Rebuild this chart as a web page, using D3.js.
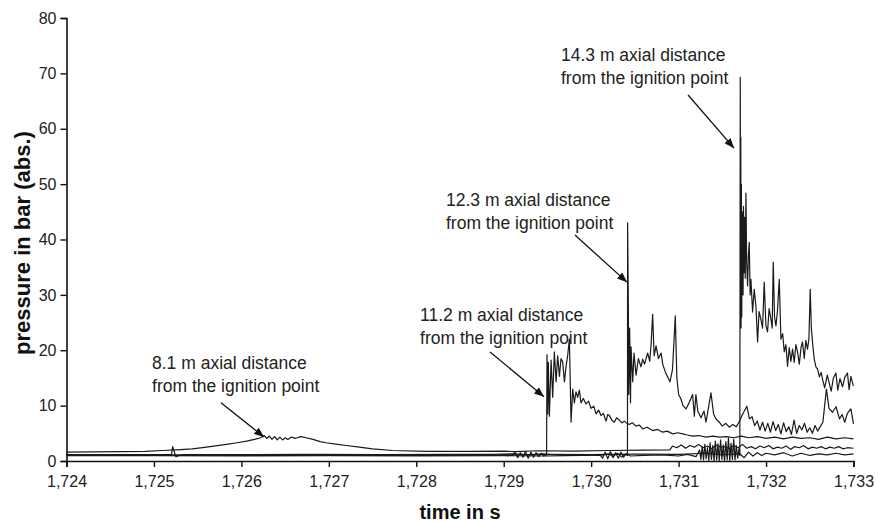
<!DOCTYPE html>
<html>
<head>
<meta charset="utf-8">
<script src="https://cdn.jsdelivr.net/npm/d3@7"></script>
<style>
  html, body { margin: 0; padding: 0; background: #fff; }
  svg { display: block; font-family: "Liberation Sans", Arial, Helvetica, sans-serif; }
</style>
</head>
<body>
<svg id="chart" width="878" height="522"></svg>
<script>
// Pressure traces along the tube; time is given in milliseconds after 1.724 s.
const xTickValues = [0, 1, 2, 3, 4, 5, 6, 7, 8, 9];
const xTickLabels = ["1,724", "1,725", "1,726", "1,727", "1,728", "1,729", "1,730", "1,731", "1,732", "1,733"];
const yTickValues = [0, 10, 20, 30, 40, 50, 60, 70, 80];

// 8.1 m sensor
const t81 = [0, 0.3, 0.6, 0.9, 1.1, 1.3, 1.44, 1.6, 1.83, 1.95, 2.06, 2.15, 2.22, 2.26, 2.29, 2.32, 2.35, 2.38, 2.41, 2.44, 2.47, 2.5, 2.53, 2.57, 2.62, 2.68, 2.74, 2.82, 2.9, 2.97, 3.1, 3.2, 3.35, 3.5, 3.73, 4.12, 4.6, 5.0, 5.12, 5.4, 5.8, 6.2, 6.6, 6.9, 6.93, 6.98, 7.03, 7.08, 7.13, 7.18, 7.23, 7.28, 7.33, 7.38, 7.43, 7.48, 7.53, 7.58, 7.63, 7.68, 7.73, 7.78, 7.83, 7.88, 7.93, 7.98, 8.03, 8.08, 8.13, 8.18, 8.23, 8.28, 8.33, 8.38, 8.43, 8.48, 8.53, 8.58, 8.63, 8.68, 8.73, 8.78, 8.83, 8.88, 8.93, 9.0];
const p81 = [1.6, 1.65, 1.7, 1.75, 1.9, 2.05, 2.2, 2.5, 3.0, 3.3, 3.6, 3.9, 4.2, 4.6, 4.1, 4.5, 3.9, 4.4, 3.8, 4.3, 3.8, 4.2, 3.9, 4.3, 4.1, 4.4, 4.2, 3.9, 3.5, 3.3, 3.0, 2.8, 2.5, 2.2, 1.9, 1.75, 1.75, 1.8, 1.7, 1.85, 1.8, 1.9, 1.95, 2.0, 2.7, 2.4, 2.9, 2.3, 2.8, 2.5, 3.0, 2.4, 2.7, 2.2, 2.9, 2.5, 2.6, 2.2, 2.8, 2.4, 3.0, 2.3, 2.6, 2.2, 2.7, 2.4, 2.8, 2.2, 2.5, 2.3, 2.7, 2.1, 2.6, 2.4, 2.8, 2.2, 2.5, 2.3, 2.6, 2.2, 2.5, 2.3, 2.6, 2.2, 2.4, 2.3];

// 11.2 m sensor
const t112 = [0, 0.6, 1.15, 1.2, 1.215, 1.23, 1.25, 1.29, 1.35, 2.0, 2.8, 3.6, 4.4, 4.9, 5.1, 5.3, 5.45, 5.49, 5.495, 5.503, 5.51, 5.522, 5.542, 5.56, 5.579, 5.599, 5.617, 5.637, 5.655, 5.674, 5.694, 5.712, 5.731, 5.751, 5.77, 5.789, 5.808, 5.826, 5.846, 5.865, 5.884, 5.91, 5.941, 5.97, 5.999, 6.03, 6.056, 6.085, 6.113, 6.14, 6.17, 6.19, 6.208, 6.235, 6.265, 6.29, 6.322, 6.35, 6.379, 6.41, 6.436, 6.47, 6.513, 6.55, 6.589, 6.64, 6.703, 6.76, 6.818, 6.87, 6.932, 6.99, 7.046, 7.1, 7.16, 7.23, 7.313, 7.39, 7.465, 7.55, 7.63, 7.72, 7.8, 7.9, 8.0, 8.1, 8.2, 8.3, 8.4, 8.5, 8.6, 8.7, 8.8, 8.9, 9.0];
const p112 = [1.15, 1.15, 1.15, 1.2, 2.6, 1.8, 0.8, 1.0, 1.15, 1.15, 1.2, 1.15, 1.2, 1.2, 1.3, 1.1, 1.3, 1.2, 19.2, 8.5, 17.8, 8.1, 18.2, 11.5, 19.7, 14.3, 19.0, 15.3, 18.5, 17.9, 14.3, 17.0, 19.0, 22.0, 7.0, 13.0, 10.5, 12.5, 11.5, 12.8, 10.5, 11.3, 10.3, 10.8, 9.5, 9.9, 8.5, 9.2, 8.2, 8.6, 7.2, 8.4, 8.2, 7.4, 7.0, 7.8, 7.4, 6.9, 7.2, 6.8, 6.6, 6.9, 6.3, 6.5, 5.8, 6.1, 5.5, 5.7, 5.2, 5.4, 4.9, 5.1, 4.9, 4.7, 4.5, 4.6, 4.3, 4.5, 4.3, 4.4, 4.2, 4.5, 4.2, 4.4, 4.1, 4.3, 4.0, 4.3, 4.1, 4.2, 3.9, 4.3, 4.0, 4.2, 4.0];

// 12.3 m sensor
const t123 = [0, 0.8, 1.6, 2.4, 3.2, 4.0, 4.8, 5.1, 5.13, 5.16, 5.19, 5.22, 5.25, 5.28, 5.31, 5.34, 5.37, 5.4, 5.43, 5.46, 5.5, 5.7, 5.9, 6.1, 6.2, 6.25, 6.3, 6.35, 6.39, 6.415, 6.417, 6.425, 6.43, 6.44, 6.45, 6.456, 6.475, 6.49, 6.513, 6.54, 6.57, 6.589, 6.61, 6.646, 6.67, 6.685, 6.703, 6.72, 6.742, 6.77, 6.8, 6.818, 6.85, 6.88, 6.901, 6.93, 6.962, 6.98, 7.0, 7.027, 7.05, 7.084, 7.12, 7.16, 7.18, 7.198, 7.22, 7.256, 7.29, 7.313, 7.34, 7.37, 7.4, 7.427, 7.465, 7.5, 7.54, 7.58, 7.62, 7.66, 7.69, 7.73, 7.78, 7.81, 7.84, 7.87, 7.9, 7.93, 7.96, 7.99, 8.02, 8.05, 8.08, 8.11, 8.14, 8.17, 8.2, 8.23, 8.26, 8.29, 8.32, 8.35, 8.38, 8.41, 8.44, 8.47, 8.5, 8.53, 8.56, 8.59, 8.62, 8.65, 8.69, 8.72, 8.76, 8.8, 8.84, 8.87, 8.9, 8.93, 8.97, 9.0];
const p123 = [1.0, 1.0, 1.05, 1.0, 1.05, 1.0, 1.05, 1.0, 1.6, 0.6, 1.5, 0.7, 1.7, 0.5, 1.6, 0.7, 1.5, 0.8, 1.4, 0.9, 1.2, 1.0, 1.1, 1.0, 1.3, 0.8, 1.4, 0.7, 1.2, 1.0, 43.0, 28.0, 12.0, 24.0, 10.5, 20.6, 14.3, 19.5, 15.5, 18.5, 17.0, 18.4, 17.5, 19.5, 18.0, 21.0, 26.5, 19.0, 20.8, 18.5, 19.5, 17.5, 16.0, 15.0, 14.3, 16.5, 26.2, 15.0, 12.0, 11.2, 10.0, 9.4, 10.5, 12.0, 8.1, 12.0, 9.0, 7.8, 9.0, 7.0, 9.5, 12.3, 8.5, 7.6, 7.0, 6.3, 6.8, 6.1, 6.6, 6.2, 7.0, 8.4, 9.9, 7.6, 8.0, 6.4, 7.2, 5.6, 7.0, 5.4, 6.8, 5.2, 7.1, 5.5, 6.6, 4.9, 6.9, 5.3, 6.2, 4.8, 7.4, 5.0, 6.4, 5.6, 6.8, 5.2, 6.0, 5.0, 6.4, 5.4, 6.2, 7.0, 13.0, 9.5, 8.8, 9.8, 7.6, 8.4, 7.0, 8.6, 9.4, 6.7];

// 14.3 m sensor
const t143 = [0, 1.0, 2.0, 3.0, 4.0, 5.0, 5.5, 5.9, 6.1, 6.13, 6.16, 6.19, 6.22, 6.25, 6.28, 6.31, 6.34, 6.37, 6.4, 6.45, 6.6, 6.8, 7.0, 7.1, 7.2, 7.24, 7.255, 7.27, 7.285, 7.3, 7.315, 7.33, 7.345, 7.36, 7.375, 7.39, 7.405, 7.42, 7.435, 7.45, 7.465, 7.48, 7.495, 7.51, 7.525, 7.54, 7.555, 7.57, 7.585, 7.6, 7.615, 7.63, 7.645, 7.66, 7.675, 7.69, 7.7, 7.705, 7.708, 7.711, 7.714, 7.718, 7.722, 7.727, 7.732, 7.737, 7.742, 7.748, 7.755, 7.762, 7.77, 7.778, 7.789, 7.798, 7.808, 7.818, 7.827, 7.846, 7.865, 7.884, 7.903, 7.92, 7.941, 7.96, 7.979, 7.998, 8.017, 8.035, 8.056, 8.07, 8.082, 8.097, 8.113, 8.13, 8.151, 8.17, 8.19, 8.208, 8.227, 8.246, 8.265, 8.284, 8.303, 8.322, 8.341, 8.36, 8.38, 8.4, 8.417, 8.437, 8.455, 8.474, 8.49, 8.505, 8.518, 8.531, 8.55, 8.57, 8.589, 8.61, 8.63, 8.646, 8.67, 8.7, 8.722, 8.745, 8.77, 8.799, 8.82, 8.845, 8.874, 8.9, 8.931, 8.95, 8.97, 8.989, 9.0];
const p143 = [0.95, 0.95, 0.9, 0.95, 0.9, 0.95, 0.9, 1.0, 1.1, 0.5, 1.6, 0.4, 1.7, 0.6, 1.5, 0.5, 1.6, 0.7, 1.3, 0.9, 1.0, 1.1, 0.9, 1.2, 0.8, 2.0, 0.3, 2.6, 0.2, 3.0, 0.4, 2.4, 0.1, 3.3, 0.3, 2.8, 0.0, 3.6, 0.2, 3.1, 0.1, 3.8, 0.3, 2.9, 0.0, 3.5, 0.2, 4.2, 0.1, 3.2, 0.3, 3.9, 0.2, 2.8, 0.5, 2.2, 1.0, 69.3, 40.0, 58.5, 24.0, 50.0, 26.0, 45.0, 43.0, 30.0, 46.0, 34.0, 44.0, 33.0, 48.4, 36.0, 31.6, 37.0, 39.5, 30.0, 32.8, 26.9, 31.0, 28.0, 21.5, 27.0, 25.6, 24.0, 32.3, 24.5, 23.3, 27.5, 25.6, 24.0, 35.9, 26.0, 24.4, 27.0, 32.8, 22.0, 23.0, 19.7, 21.0, 17.1, 20.5, 18.0, 20.2, 17.8, 21.0, 19.7, 17.5, 20.5, 21.5, 18.5, 21.8, 20.2, 22.0, 31.0, 24.0, 21.5, 18.5, 17.0, 16.6, 15.2, 16.0, 14.8, 13.2, 15.5, 14.1, 12.6, 15.0, 15.9, 12.8, 14.9, 13.4, 15.1, 15.9, 12.9, 15.3, 14.1, 13.6];

// reference sensor staying near ambient pressure
const tRef = [0, 1.0, 2.0, 3.0, 4.0, 5.0, 5.5, 6.0, 6.5, 7.0, 7.3, 7.5, 7.7, 7.75, 7.8, 7.85, 7.9, 7.95, 8.0, 8.1, 8.2, 8.3, 8.4, 8.5, 8.6, 8.7, 8.8, 8.9, 9.0];
const pRef = [1.1, 1.05, 1.1, 1.05, 1.1, 1.1, 1.2, 1.15, 1.25, 1.2, 1.4, 1.1, 1.3, 0.6, 1.6, 0.9, 1.5, 1.0, 1.4, 1.1, 1.5, 0.9, 1.4, 1.0, 1.3, 1.1, 1.4, 1.1, 1.3];

// annotation texts and where they sit (time in ms, pressure in bar)
const noteLines = [
  ["8.1 m axial distance", "from the ignition point"],
  ["11.2 m axial distance", "from the ignition point"],
  ["12.3 m axial distance", "from the ignition point"],
  ["14.3 m axial distance", "from the ignition point"]
];
const noteTextAt = [[0.978, 16.6], [4.043, 25.3], [4.34, 46.0], [5.655, 72.2]];
const noteArrowFrom = [[1.767, 10.5], [4.843, 19.7], [5.815, 40.8], [7.108, 66.1]];
const noteArrowTo = [[2.259, 4.33], [5.461, 11.6], [6.41, 32.3], [7.634, 56.5]];

const svg = d3.select("#chart");
const x = d3.scaleLinear().domain([0, 9]).range([66.5, 853.5]);
const y = d3.scaleLinear().domain([0, 80]).range([461, 18]);

const traces = [[t81, p81], [tRef, pRef], [t112, p112], [t123, p123], [t143, p143]]
  .map(([t, p]) => t.map((v, i) => [v, p[i]]));

const line = d3.line().x(d => x(d[0])).y(d => y(d[1]));

svg.append("g")
  .selectAll("path")
  .data(traces)
  .join("path")
  .attr("d", line)
  .attr("fill", "none")
  .attr("stroke", "#1a1a1a")
  .attr("stroke-width", 1.2)
  .attr("stroke-linejoin", "round");

// axes
const yAxis = d3.axisLeft(y).tickValues(yTickValues).tickSize(6).tickPadding(4).tickFormat(d3.format("d"));
const gy = svg.append("g").attr("transform", `translate(${x(0)},0)`).call(yAxis);
const xAxis = d3.axisBottom(x).tickValues(xTickValues).tickSize(6).tickPadding(9)
  .tickFormat((d, i) => xTickLabels[i]);
const gx = svg.append("g").attr("transform", `translate(0,${y(0)})`).call(xAxis);

[gx, gy].forEach(g => {
  g.select(".domain").attr("stroke", "#111").attr("stroke-width", 1.6);
  g.selectAll(".tick line").attr("stroke", "#111").attr("stroke-width", 1.4);
  g.selectAll(".tick text").attr("fill", "#222").attr("font-size", 16)
    .attr("font-family", "'Liberation Sans', Arial, sans-serif");
});

// axis titles
svg.append("text")
  .attr("x", 460).attr("y", 519)
  .attr("text-anchor", "middle")
  .attr("font-size", 20).attr("font-weight", "bold").attr("fill", "#111")
  .text("time in s");

svg.append("text")
  .attr("transform", "translate(30,243) rotate(-90)")
  .attr("text-anchor", "middle")
  .attr("font-size", 22).attr("font-weight", "bold").attr("fill", "#111")
  .text("pressure in bar (abs.)");

// annotations with arrows
const defs = svg.append("defs");
defs.append("marker")
  .attr("id", "arrowhead")
  .attr("viewBox", "0 0 10 8")
  .attr("refX", 10).attr("refY", 4)
  .attr("markerWidth", 10).attr("markerHeight", 8)
  .attr("markerUnits", "userSpaceOnUse")
  .attr("orient", "auto")
  .append("path")
  .attr("d", "M0,0 L10,4 L0,8 Z")
  .attr("fill", "#111");

const notes = svg.append("g");
noteLines.forEach((lines, i) => {
  const [tx, ty] = noteTextAt[i];
  const txt = notes.append("text")
    .attr("x", x(tx)).attr("y", y(ty))
    .attr("font-size", 17.5).attr("fill", "#222");
  lines.forEach((s, k) => {
    txt.append("tspan").attr("x", x(tx)).attr("dy", k === 0 ? 0 : 23).text(s);
  });
  notes.append("line")
    .attr("x1", x(noteArrowFrom[i][0])).attr("y1", y(noteArrowFrom[i][1]))
    .attr("x2", x(noteArrowTo[i][0])).attr("y2", y(noteArrowTo[i][1]))
    .attr("stroke", "#111").attr("stroke-width", 1.3)
    .attr("marker-end", "url(#arrowhead)");
});
</script>
</body>
</html>
